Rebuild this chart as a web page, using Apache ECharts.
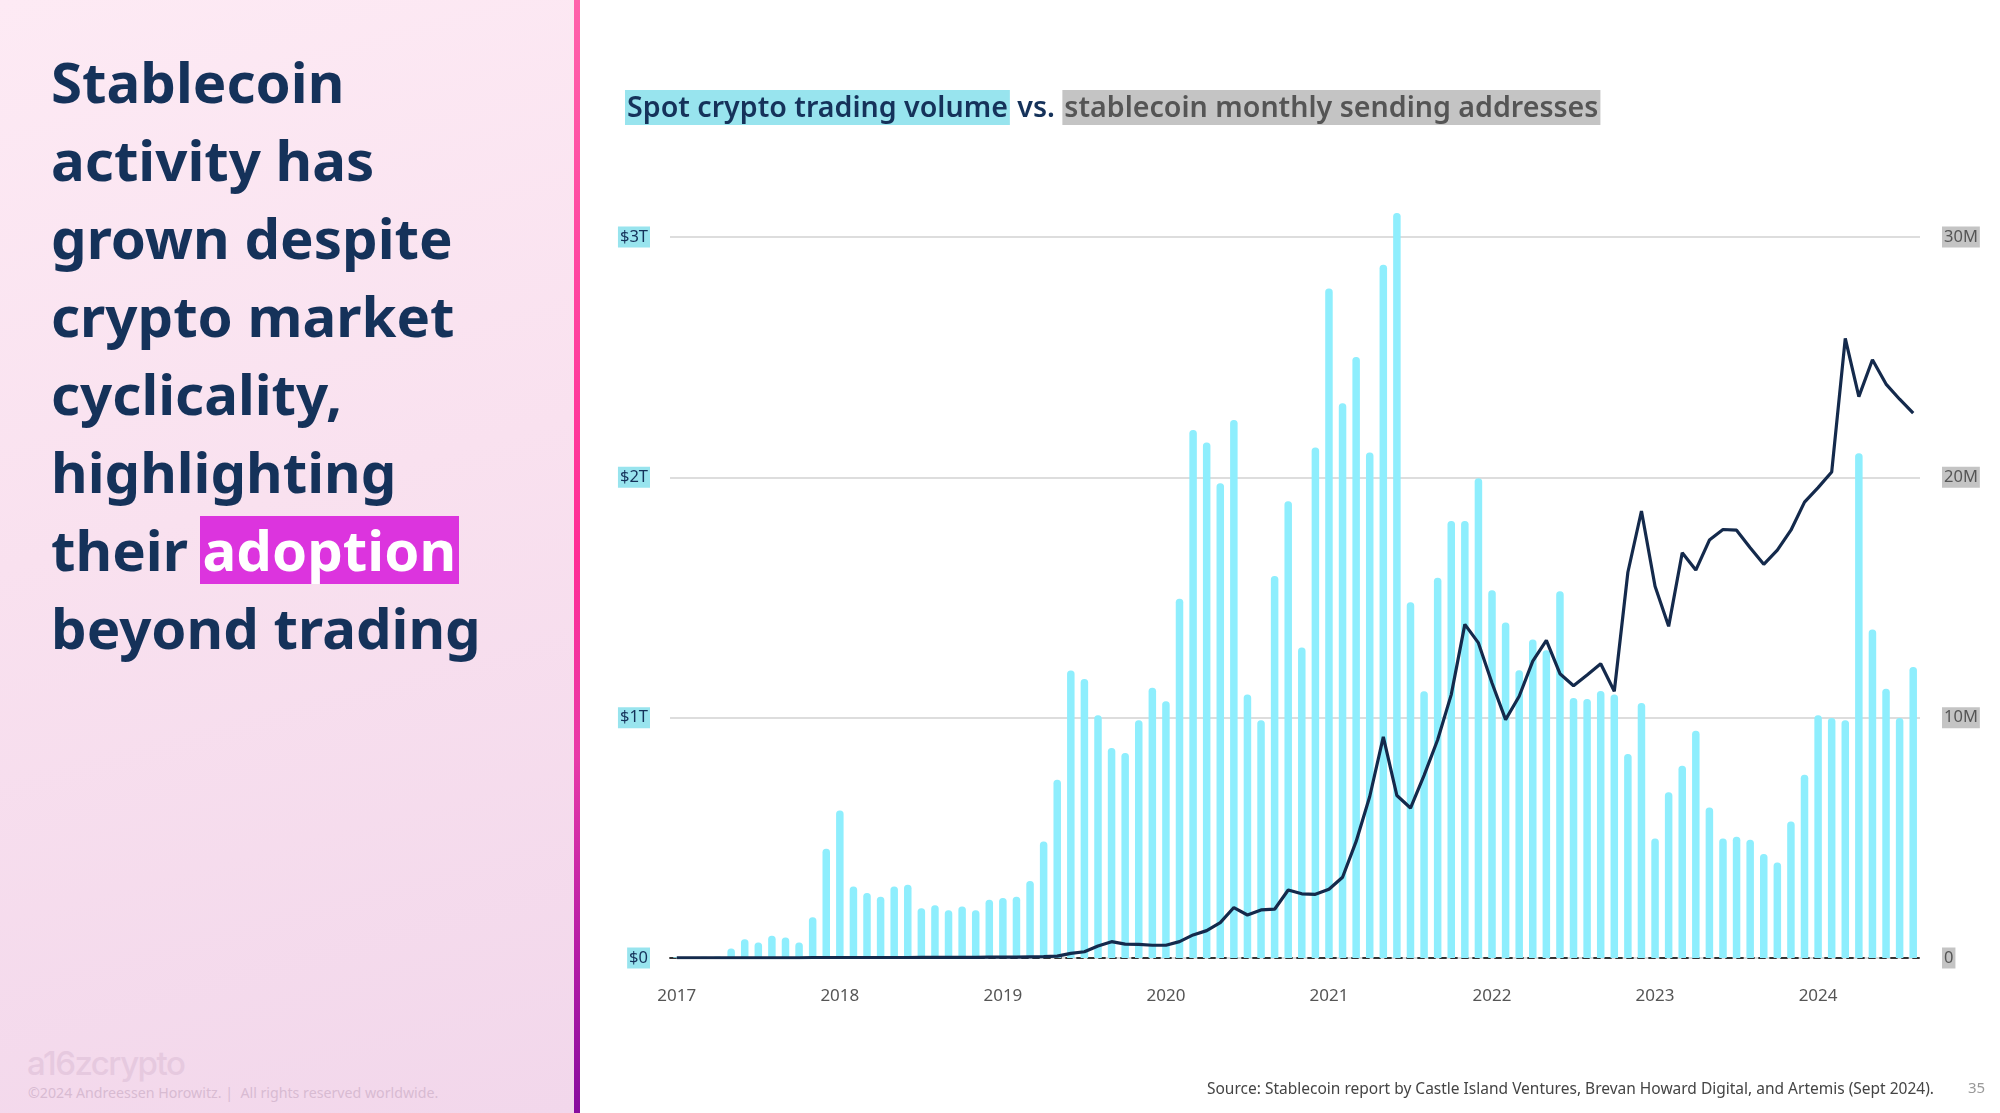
<!DOCTYPE html>
<html>
<head>
<meta charset="utf-8">
<script src="https://cdn.jsdelivr.net/npm/echarts@6/dist/echarts.min.js"></script>
<style>
  html,body{margin:0;padding:0;width:2000px;height:1113px;overflow:hidden;background:#fff;font-family:"Noto Sans",sans-serif;}
  #left{position:absolute;left:0;top:0;width:574px;height:1113px;background:linear-gradient(165deg,#fdeaf4 0%,#f9e1ef 45%,#f2d7eb 100%);}
  #vbar{position:absolute;left:574px;top:0;width:6px;height:1113px;background:linear-gradient(#ff62ab 0%,#ff45a0 25%,#ff2d95 50%,#e83aa8 68%,#b41ca6 86%,#880c9e 100%);}
  #headline{position:absolute;left:51px;top:43px;width:520px;font-size:56.4px;font-weight:700;line-height:78px;color:#15325a;}
  #headline .hl{display:inline-block;background:#dc34de;color:#fff;line-height:68px;height:68px;padding:0 3px;margin-left:-3px;}
  #logo{position:absolute;left:27px;top:1043px;font-family:"Inter",sans-serif;font-size:33px;font-weight:500;letter-spacing:-1.5px;color:#e6c9df;}
  #copy{position:absolute;left:28px;top:1083px;font-size:14.2px;color:#d8bbd2;white-space:pre;}
  #source{position:absolute;right:66px;top:1077px;font-size:15.5px;color:#444;white-space:nowrap;}
  #page{position:absolute;left:1968px;top:1077px;font-size:15px;color:#999;}
  #chart{position:absolute;left:0;top:0;width:2000px;height:1113px;}
</style>
</head>
<body>
<div id="left"></div>
<div id="vbar"></div>
<div id="headline">Stablecoin<br>activity has<br>grown despite<br>crypto market<br>cyclicality,<br>highlighting<br>their <span class="hl">adoption</span><br>beyond trading</div>
<div id="logo">a16zcrypto</div>
<div id="copy">©2024 Andreessen Horowitz. |  All rights reserved worldwide.</div>
<div id="chart"></div>
<div id="source">Source: Stablecoin report by Castle Island Ventures, Brevan Howard Digital, and Artemis (Sept 2024).</div>
<div id="page">35</div>
<script>
// Month categories, Jan 2017 – Aug 2024
const months = [
 "2017-01","2017-02","2017-03","2017-04","2017-05","2017-06","2017-07","2017-08","2017-09","2017-10","2017-11","2017-12",
 "2018-01","2018-02","2018-03","2018-04","2018-05","2018-06","2018-07","2018-08","2018-09","2018-10","2018-11","2018-12",
 "2019-01","2019-02","2019-03","2019-04","2019-05","2019-06","2019-07","2019-08","2019-09","2019-10","2019-11","2019-12",
 "2020-01","2020-02","2020-03","2020-04","2020-05","2020-06","2020-07","2020-08","2020-09","2020-10","2020-11","2020-12",
 "2021-01","2021-02","2021-03","2021-04","2021-05","2021-06","2021-07","2021-08","2021-09","2021-10","2021-11","2021-12",
 "2022-01","2022-02","2022-03","2022-04","2022-05","2022-06","2022-07","2022-08","2022-09","2022-10","2022-11","2022-12",
 "2023-01","2023-02","2023-03","2023-04","2023-05","2023-06","2023-07","2023-08","2023-09","2023-10","2023-11","2023-12",
 "2024-01","2024-02","2024-03","2024-04","2024-05","2024-06","2024-07","2024-08"
];
// Spot crypto trading volume, $ trillions
const spotVolumeT = [
 0.003,0.002,0.005,0.006,0.040,0.078,0.064,0.093,0.085,0.064,0.170,0.455,
 0.614,0.297,0.270,0.255,0.297,0.305,0.207,0.220,0.199,0.214,0.199,0.242,
 0.250,0.255,0.320,0.485,0.742,1.196,1.161,1.010,0.874,0.853,0.989,1.125,
 1.068,1.495,2.197,2.145,1.975,2.239,1.096,0.989,1.589,1.900,1.292,2.124,
 2.786,2.308,2.501,2.103,2.885,3.100,1.480,1.110,1.582,1.818,1.818,1.996,
 1.530,1.396,1.197,1.325,1.280,1.526,1.082,1.078,1.111,1.096,0.849,1.061,
 0.497,0.690,0.800,0.946,0.626,0.497,0.505,0.492,0.433,0.397,0.568,0.762,
 1.010,0.999,0.989,2.100,1.367,1.120,0.999,1.211
];
// Stablecoin monthly sending addresses, millions
const sendingAddrM = [
 0.01,0.01,0.01,0.01,0.01,0.01,0.01,0.01,0.01,0.01,0.02,0.02,
 0.02,0.02,0.02,0.02,0.02,0.02,0.03,0.03,0.03,0.03,0.03,0.04,
 0.04,0.04,0.05,0.06,0.08,0.19,0.26,0.50,0.68,0.58,0.57,0.53,
 0.53,0.68,0.96,1.14,1.47,2.10,1.79,2.00,2.03,2.83,2.67,2.65,
 2.86,3.36,4.85,6.72,9.20,6.76,6.24,7.60,9.08,10.96,13.88,13.11,
 11.44,9.92,10.89,12.35,13.22,11.83,11.33,11.78,12.24,11.10,16.05,18.60,
 15.47,13.80,16.86,16.14,17.39,17.83,17.80,17.07,16.38,16.97,17.80,18.97,
 19.57,20.22,25.78,23.36,24.89,23.88,23.25,22.67
];
const leftTicks = {0:"$0",1:"$1T",2:"$2T",3:"$3T"};
const rightTicks = {0:"0",10:"10M",20:"20M",30:"30M"};

const FONT = '"Noto Sans", sans-serif';
const chart = echarts.init(document.getElementById('chart'), null, {renderer:'canvas'});
chart.setOption({
  backgroundColor: 'transparent',
  animation: false,
  title: {
    left: 620, top: 85,
    text: '{a|Spot crypto trading volume} {b|vs.} {c|stablecoin monthly sending addresses}',
    textStyle: {
      fontFamily: FONT, fontSize: 28.6, fontWeight: 600, color: '#15325a',
      rich: {
        a: {fontFamily: FONT, fontSize: 28.6, fontWeight: 600, color: '#15325a', backgroundColor: '#98e4ee', padding: [4, 2, 2, 2]},
        b: {fontFamily: FONT, fontSize: 28.6, fontWeight: 600, color: '#15325a', padding: [4, 0, 2, 0]},
        c: {fontFamily: FONT, fontSize: 28.6, fontWeight: 600, color: '#555555', backgroundColor: '#c4c4c4', padding: [4, 2, 2, 2]}
      }
    }
  },
  grid: {left: 670, width: 1250, top: 237, bottom: 155, containLabel: false},
  xAxis: {
    type: 'category',
    data: months,
    boundaryGap: true,
    axisTick: {show: false},
    axisLine: {show: true, lineStyle: {color: '#333', width: 1.8, type: [6, 5]}},
    axisLabel: {
      interval: (idx) => months[idx].endsWith('-01'),
      formatter: (v) => v.slice(0, 4),
      color: '#555', fontSize: 17, fontFamily: FONT, margin: 30
    },
    splitLine: {show: false}
  },
  yAxis: [
    {
      type: 'value', min: 0, max: 3, interval: 1, position: 'left',
      axisLine: {show: false}, axisTick: {show: false},
      splitLine: {show: true, lineStyle: {color: '#d2d2d2', width: 1.5}},
      axisLabel: {
        formatter: (v) => leftTicks[v] || '',
        color: '#15325a', fontSize: 16.5, fontFamily: FONT, margin: 20,
        backgroundColor: '#98e4ee', padding: [4, 2, 0, 2]
      }
    },
    {
      type: 'value', min: 0, max: 30, interval: 10, position: 'right',
      axisLine: {show: false}, axisTick: {show: false},
      splitLine: {show: false},
      axisLabel: {
        formatter: (v) => rightTicks[v] || '',
        color: '#555', fontSize: 16.5, fontFamily: FONT, margin: 22,
        backgroundColor: '#c4c4c4', padding: [4, 2, 0, 2]
      }
    }
  ],
  series: [
    {
      name: 'Spot crypto trading volume', type: 'bar', yAxisIndex: 0,
      data: spotVolumeT, barWidth: 7.5, clip: false,
      itemStyle: {color: '#8eeefd', borderRadius: [3.5, 3.5, 0, 0]},
      z: 2
    },
    {
      name: 'Stablecoin monthly sending addresses', type: 'line', yAxisIndex: 1,
      data: sendingAddrM, showSymbol: false, symbol: 'none',
      lineStyle: {color: '#142a4c', width: 3.2}, z: 3
    }
  ]
});
</script>
</body>
</html>
